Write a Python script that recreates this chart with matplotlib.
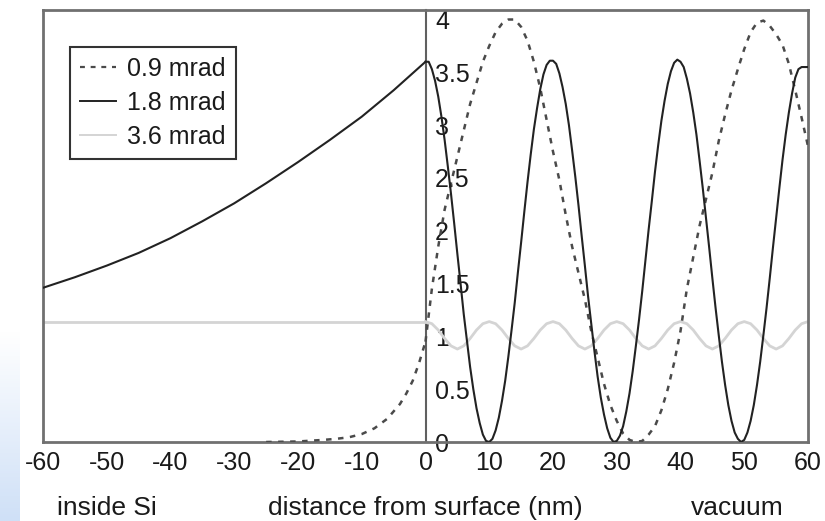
import matplotlib
matplotlib.use("Agg")
import matplotlib.pyplot as plt
import numpy as np
from matplotlib.colors import LinearSegmentedColormap
from matplotlib.lines import Line2D

plt.rcParams['font.family'] = ['Liberation Sans', 'DejaVu Sans']
plt.rcParams['axes.unicode_minus'] = False

# ---------------- data ----------------
# inside Si (x < 0)
x_si = [-60, -55, -50, -45, -40, -35, -30, -25, -20, -15, -10, -5, 0]
solid_si = [1.46, 1.56, 1.67, 1.79, 1.93, 2.09, 2.26, 2.45, 2.65, 2.86, 3.08, 3.33, 3.60]

x_dash_si = [-25, -20, -16, -14, -12, -10, -8, -6, -4, -3, -2, -1, 0]
dash_si = [0.0, 0.005, 0.02, 0.03, 0.045, 0.075, 0.13, 0.22, 0.36, 0.46, 0.58, 0.75, 0.95]

x_gray_si = [-60, 0]
gray_si = [1.14, 1.14]

# vacuum side (x >= 0)
x_vac_half = list(np.arange(0, 60.5, 0.5))     # 0.5 nm steps
solid_vac = [3.60, 3.60, 3.53, 3.42, 3.27, 3.08, 2.86, 2.61, 2.35, 2.07,
             1.78, 1.50, 1.21, 0.96, 0.71, 0.50, 0.32, 0.18, 0.07, 0.01,
             0.00, 0.03, 0.11, 0.23, 0.39, 0.58, 0.81, 1.06, 1.32, 1.61,
             1.89, 2.18, 2.46, 2.72, 2.96, 3.16, 3.34, 3.48, 3.57, 3.61,
             3.61, 3.58, 3.49, 3.36, 3.20, 3.00, 2.76, 2.51, 2.24, 1.95,
             1.67, 1.38, 1.12, 0.86, 0.62, 0.42, 0.26, 0.13, 0.04, 0.00,
             0.01, 0.06, 0.15, 0.29, 0.46, 0.67, 0.91, 1.16, 1.43, 1.72,
             2.01, 2.28, 2.56, 2.81, 3.04, 3.23, 3.39, 3.51, 3.59, 3.62,
             3.60, 3.55, 3.44, 3.30, 3.12, 2.91, 2.66, 2.40, 2.12, 1.84,
             1.55, 1.27, 1.01, 0.76, 0.54, 0.35, 0.20, 0.09, 0.03, 0.00,
             0.02, 0.09, 0.20, 0.35, 0.54, 0.76, 1.01, 1.27, 1.55, 1.84,
             2.12, 2.40, 2.67, 2.91, 3.12, 3.30, 3.45, 3.53, 3.55, 3.55,
             3.55]

x_vac = list(range(0, 61))                      # 1 nm steps
dash_vac = [0.95, 1.45, 1.85, 2.20, 2.45, 2.70, 2.95, 3.20, 3.40, 3.60,
            3.75, 3.88, 3.96, 4.00, 4.00, 3.93, 3.80, 3.60, 3.35, 3.05,
            2.75, 2.48, 2.15, 1.85, 1.60, 1.35, 1.05, 0.80, 0.55, 0.35,
            0.20, 0.08, 0.02, 0.00, 0.01, 0.07, 0.15, 0.30, 0.50, 0.75,
            1.05, 1.45, 1.75, 2.05, 2.30, 2.55, 2.85, 3.10, 3.33, 3.53,
            3.72, 3.88, 3.97, 3.99, 3.94, 3.86, 3.76, 3.58, 3.33, 3.07,
            2.80]
gray_vac = [1.14, 1.12, 1.06, 0.98, 0.91, 0.88, 0.91, 0.98, 1.06, 1.12,
            1.14, 1.12, 1.06, 0.98, 0.91, 0.88, 0.91, 0.98, 1.06, 1.12,
            1.14, 1.12, 1.06, 0.98, 0.91, 0.88, 0.91, 0.98, 1.06, 1.12,
            1.14, 1.12, 1.06, 0.98, 0.91, 0.88, 0.91, 0.98, 1.06, 1.12,
            1.14, 1.12, 1.06, 0.98, 0.91, 0.88, 0.91, 0.98, 1.06, 1.12,
            1.14, 1.12, 1.06, 0.98, 0.91, 0.88, 0.91, 0.98, 1.06, 1.12,
            1.14]

series_labels = ['0.9 mrad', '1.8 mrad', '3.6 mrad']
x_ticks = [-60, -50, -40, -30, -20, -10, 0, 10, 20, 30, 40, 50, 60]
x_tick_labels = ['-60', '-50', '-40', '-30', '-20', '-10', '0', '10', '20', '30', '40', '50', '60']
y_ticks = [0, 0.5, 1, 1.5, 2, 2.5, 3, 3.5, 4]
y_tick_labels = ['0', '0.5', '1', '1.5', '2', '2.5', '3', '3.5', '4']
xlabel_left = 'inside Si'
xlabel_mid = 'distance from surface (nm)'
xlabel_right = 'vacuum'

# ---------------- figure ----------------
fig = plt.figure(figsize=(8.25, 5.21), dpi=100)

# faint blue strip at the bottom-left edge of the picture
bg = fig.add_axes([0, 0, 20 / 825, 190 / 521])
grad = np.linspace(0, 1, 100).reshape(-1, 1)
cmap = LinearSegmentedColormap.from_list('bl', ['#ffffff', '#cfe0f7'])
bg.imshow(grad, aspect='auto', cmap=cmap, origin='upper', extent=[0, 1, 0, 1])
bg.set_axis_off()

ax = fig.add_axes([43 / 825, 79 / 521, 765 / 825, 432 / 521])

dash_style = (0, (2.2, 2.6))
gray_c = '#d4d4d4'
solid_c = '#222222'
dash_c = '#4a4a4a'

ax.plot(x_gray_si, gray_si, color=gray_c, lw=2.0, zorder=2)
ax.plot(x_vac, gray_vac, color=gray_c, lw=2.0, zorder=2)
ax.plot(x_dash_si, dash_si, color=dash_c, lw=1.8, ls=dash_style, zorder=3)
ax.plot(x_vac, dash_vac, color=dash_c, lw=1.8, ls=dash_style, zorder=3)
ax.plot(x_si, solid_si, color=solid_c, lw=1.5, zorder=4)
ax.plot(x_vac_half, solid_vac, color=solid_c, lw=1.5, zorder=4)

ax.set_xlim(-60, 60)
ax.set_ylim(0, 4.09)

ax.set_xticks(x_ticks, labels=x_tick_labels)
ax.tick_params(axis='x', length=0, pad=6.5, labelsize=18, colors='#1a1a1a')
ax.set_yticks([])

for s in ax.spines.values():
    s.set_color('#707070')
    s.set_linewidth(2.0)

# y axis drawn at x = 0 (middle of the axes)
sec = ax.secondary_yaxis(0.5)
sec.set_yticks(y_ticks, labels=y_tick_labels)
sec.tick_params(length=0, pad=7, labelsize=18, colors='#1a1a1a')
for s in sec.spines.values():
    s.set_color('#606060')
    s.set_linewidth(1.5)

# axis texts
ax.text(0.084, -0.169, xlabel_left, transform=ax.transAxes, ha='center',
        va='baseline', fontsize=19, color='#1a1a1a')
ax.text(0.4993, -0.169, xlabel_mid, transform=ax.transAxes, ha='center',
        va='baseline', fontsize=19, color='#1a1a1a')
ax.text(0.908, -0.169, xlabel_right, transform=ax.transAxes, ha='center',
        va='baseline', fontsize=19, color='#1a1a1a')

# legend
handles = [Line2D([], [], color=dash_c, lw=1.6, ls=dash_style),
           Line2D([], [], color=solid_c, lw=1.4),
           Line2D([], [], color=gray_c, lw=1.4)]
leg = ax.legend(handles, series_labels, loc='upper left',
                bbox_to_anchor=(0.035, 0.914), borderaxespad=0,
                fontsize=18, frameon=True, fancybox=False, framealpha=1,
                handlelength=1.45, handletextpad=0.45, labelspacing=0.40,
                borderpad=0.40)
leg.get_frame().set_edgecolor('#333333')
leg.get_frame().set_linewidth(1.5)
for t in leg.get_texts():
    t.set_color('#1a1a1a')

fig.savefig('out.png', dpi=100)
